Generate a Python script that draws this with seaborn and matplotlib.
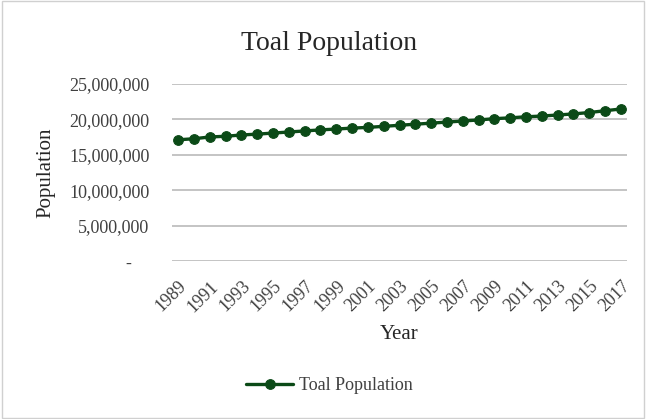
import pandas as pd
import matplotlib.pyplot as plt
import seaborn as sns
from matplotlib.patches import Rectangle
from matplotlib.ticker import FuncFormatter

# data
years = list(range(1989, 2018))
population = [17100000, 17250000, 17500000, 17600000, 17780000, 17900000,
              18050000, 18200000, 18350000, 18500000, 18620000, 18750000,
              18850000, 19000000, 19150000, 19300000, 19450000, 19600000,
              19750000, 19900000, 20080000, 20200000, 20350000, 20450000,
              20600000, 20750000, 20950000, 21200000, 21450000]

df = pd.DataFrame({'Year': years, 'Population': population})

sns.set_style('white')
plt.rcParams['font.family'] = ['Liberation Serif', 'DejaVu Serif']

green = '#0b4a17'
fig = plt.figure(figsize=(6.46, 4.19), dpi=100)
ax = fig.add_axes([0.266, 0.377, 0.705, 0.423])

sns.lineplot(data=df, x='Year', y='Population', ax=ax, color=green,
             marker='o', markersize=7, markeredgecolor=green,
             linewidth=2.4, label='Toal Population', legend=False)

ax.set_ylim(0, 25000000)
ax.set_yticks([0, 5000000, 10000000, 15000000, 20000000, 25000000])
ax.yaxis.set_major_formatter(FuncFormatter(lambda v, p: '-    ' if v == 0 else f'{int(v):,}'))
ax.set_xlim(1988.6, 2017.4)
ax.set_xticks(years[::2])
ax.set_xticklabels([str(y) for y in years[::2]], rotation=45, ha='right',
                   rotation_mode='anchor')
ax.grid(axis='y', color='#bfbfbf', linewidth=1.3)
ax.set_axisbelow(True)
for s in ax.spines.values():
    s.set_visible(False)
ax.tick_params(axis='both', length=0, labelsize=13, labelcolor='#404040')
ax.tick_params(axis='y', pad=16)
ax.tick_params(axis='x', pad=12)

ax.set_xlabel('Year', fontsize=15, color='#262626', labelpad=7)
ax.set_ylabel('Population', fontsize=15, color='#262626', labelpad=10)
fig.text(0.51, 0.895, 'Toal Population', ha='center', va='center',
         fontsize=20, color='#262626')

handles, labels = ax.get_legend_handles_labels()
fig.legend(handles, labels, loc='center', bbox_to_anchor=(0.51, 0.08),
           frameon=False, fontsize=13, handlelength=2.6, handletextpad=0.3,
           labelcolor='#404040')

fig.patches.append(Rectangle((0.003, 0.003), 0.994, 0.994, transform=fig.transFigure,
                             fill=False, edgecolor='#d0d0d0', linewidth=1))

fig.savefig('out.png', dpi=100)
